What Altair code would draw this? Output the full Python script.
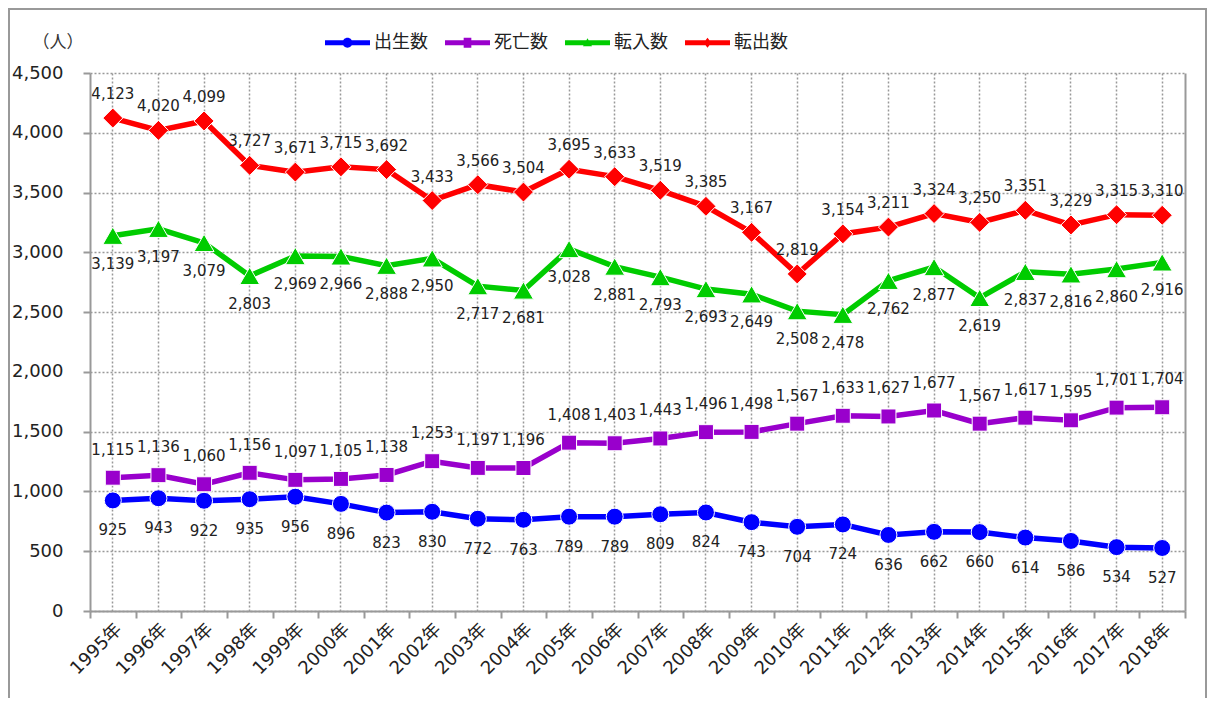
import altair as alt
import pandas as pd

years = [f"{y}年" for y in range(1995, 2019)]
series = ["出生数", "死亡数", "転入数", "転出数"]
births = [925, 943, 922, 935, 956, 896, 823, 830, 772, 763, 789, 789, 809, 824, 743, 704, 724, 636, 662, 660, 614, 586, 534, 527]
deaths = [1115, 1136, 1060, 1156, 1097, 1105, 1138, 1253, 1197, 1196, 1408, 1403, 1443, 1496, 1498, 1567, 1633, 1627, 1677, 1567, 1617, 1595, 1701, 1704]
moves_in = [3139, 3197, 3079, 2803, 2969, 2966, 2888, 2950, 2717, 2681, 3028, 2881, 2793, 2693, 2649, 2508, 2478, 2762, 2877, 2619, 2837, 2816, 2860, 2916]
moves_out = [4123, 4020, 4099, 3727, 3671, 3715, 3692, 3433, 3566, 3504, 3695, 3633, 3519, 3385, 3167, 2819, 3154, 3211, 3324, 3250, 3351, 3229, 3315, 3310]
y_ticks = [0, 500, 1000, 1500, 2000, 2500, 3000, 3500, 4000, 4500]

colors = ["#0000FF", "#9900CC", "#00CC00", "#FF0000"]
shapes = ["circle", "square", "triangle-up", "diamond"]
sizes = [289, 225, 400, 400]
label_dy = [30, -28, 28, -24]

# legend symbols: a thick line with the marker in the middle
line_path = "M-1,-0.11H1V0.11H-1Z"
legend_paths = [
    line_path + "M-0.22,0A0.22,0.22 0 1,1 0.22,0A0.22,0.22 0 1,1 -0.22,0Z",
    line_path + "M-0.17,-0.22H0.17V0.22H-0.17Z",
    line_path + "M0,-0.2L0.2,0.15L-0.2,0.15Z",
    line_path + "M0,-0.22L0.17,0L0,0.22L-0.17,0Z",
]

rows = []
for name, vals in zip(series, [births, deaths, moves_in, moves_out]):
    for yr, v in zip(years, vals):
        rows.append({"年": yr, "系列": name, "人数": v})
df = pd.DataFrame(rows)

FONT = "DejaVu Sans, Noto Sans CJK JP"
GRID = "#999999"
AXIS = "#999999"

x_scale = alt.Scale(type="band", domain=years, paddingInner=0, paddingOuter=0)
y_scale = alt.Scale(domain=[0, 4500], nice=False)
color_scale = alt.Scale(domain=series, range=colors)

base = alt.Chart(df)

x_main = alt.X("年:N", scale=x_scale, sort=years,
               axis=alt.Axis(title=None, grid=True, gridDash=[2, 2], gridColor=GRID, gridWidth=1.5,
                             ticks=False, domain=False, labelAngle=-45, labelFontSize=18,
                             labelFont=FONT, labelColor="#222222", labelPadding=9, orient="bottom"))
y_main = alt.Y("人数:Q", scale=y_scale,
               axis=alt.Axis(values=y_ticks, labelExpr="format(datum.value, ',')", grid=True,
                             gridDash=[2, 2], gridColor=GRID,
                             gridWidth=1.5, tickSize=7, tickColor=AXIS, tickWidth=2, domainColor=AXIS,
                             domainWidth=2, labelFontSize=18, labelFont=FONT, labelColor="#222222",
                             labelPadding=20, title="（人）", titleAngle=0, titleAlign="left",
                             titleBaseline="middle", titleX=-58, titleY=-31, titleFontSize=17,
                             titleFontWeight="normal", titleFont=FONT, titleColor="#333333",
                             orient="left"))
x_plain = alt.X("年:N", scale=x_scale, sort=years, axis=None)
y_plain = alt.Y("人数:Q", scale=y_scale, axis=None)

lines = base.mark_line(strokeWidth=5.5).encode(
    x=x_main, y=y_main,
    color=alt.Color("系列:N", scale=color_scale, legend=None),
    detail="系列:N",
)

layers = [lines]
for name, shp, sz, dy in zip(series, shapes, sizes, label_dy):
    sub = base.transform_filter(alt.datum["系列"] == name)
    layers.append(
        sub.mark_point(filled=True, shape=shp, size=sz, stroke="white", strokeWidth=1, opacity=1).encode(
            x=x_plain, y=y_plain,
            color=alt.Color("系列:N", scale=color_scale, legend=None),
        )
    )
    layers.append(
        sub.mark_text(dy=dy, fontSize=15, font=FONT, color="#222222").encode(
            x=x_plain, y=y_plain,
            text=alt.Text("人数:Q", format=","),
        )
    )

legend = alt.Legend(orient="none", legendX=235, legendY=-53, direction="horizontal", title=None,
                    symbolSize=2025, symbolStrokeWidth=0, symbolOpacity=1, labelFontSize=18,
                    labelFont=FONT, labelColor="#222222", labelOffset=4, columnPadding=17, padding=0)

legend_layer = base.mark_point(filled=True, opacity=0).encode(
    x=alt.X("年:N", scale=x_scale, sort=years,
            axis=alt.Axis(title=None, tickBand="extent", grid=False, labels=False, domain=True,
                          domainColor=AXIS, domainWidth=2, ticks=True, tickSize=7, tickColor=AXIS,
                          tickWidth=2, orient="bottom")),
    y=alt.Y("人数:Q", scale=y_scale,
            axis=alt.Axis(title=None, grid=False, labels=False, ticks=False, domain=True,
                          domainColor=AXIS, domainWidth=2, orient="right")),
    color=alt.Color("系列:N", scale=color_scale, legend=legend),
    shape=alt.Shape("系列:N", scale=alt.Scale(domain=series, range=legend_paths), legend=legend),
)
layers.append(legend_layer)

frame = alt.Chart(alt.Data(values=[{}])).mark_rect(fill="transparent", stroke="#999999", strokeWidth=2).encode(
    x=alt.value(-81), x2=alt.value(1116), y=alt.value(-64), y2=alt.value(700)
)
layers.append(frame)

chart = alt.layer(*layers).resolve_axis(
    x="independent", y="independent"
).resolve_legend(color="independent", shape="independent").properties(
    width=1095, height=538,
    autosize=alt.AutoSizeParams(type="none"),
    padding={"left": 82, "top": 65, "right": 23, "bottom": 87},
).configure_view(stroke="transparent")

chart.save("out.html", embed_options={"renderer": "svg", "actions": False})
